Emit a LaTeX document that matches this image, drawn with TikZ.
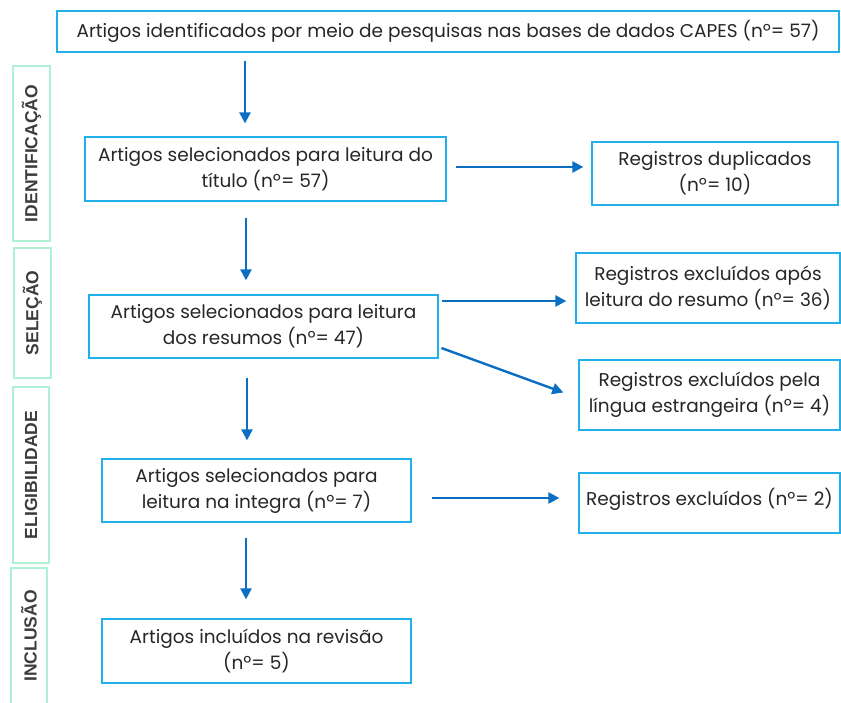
\documentclass[tikz,border=0pt]{standalone}
\usepackage{fontspec}
\setmainfont{Poppins}
\newfontfamily\phasefont{Liberation Sans}
\usetikzlibrary{arrows.meta, positioning}

\definecolor{boxblue}{HTML}{22B0EA}
\definecolor{arrowblue}{HTML}{0A6FC2}
\definecolor{phasegreen}{HTML}{ADF2D4}
\definecolor{textgray}{HTML}{262626}

\begin{document}
\begin{tikzpicture}[x=1pt, y=-1pt]
  \tikzstyle{box} = [draw = boxblue, line width = 1.3pt, align = center, inner sep = 1pt,
                     text = textgray, font = \fontsize{18.5}{26}\selectfont];
  \tikzstyle{phase} = [draw = phasegreen, line width = 1.3pt, rotate = 90, inner sep = 2pt,
                       text = textgray!90, font = \phasefont\bfseries\fontsize{17.5}{20}\selectfont];
  \tikzstyle{flow} = [draw = arrowblue, line width = 2.4pt, -{Triangle[width = 11pt, length = 11pt]}];

  \useasboundingbox (0,0) rectangle (841,703);

  % phases
  \node[phase, minimum width = 175pt, minimum height = 37pt] (ident) at (31.5,153.5) {IDENTIFICAÇÃO};
  \node[phase, minimum width = 130pt, minimum height = 37pt] (selec) at (32.5,313) {SELEÇÃO};
  \node[phase, minimum width = 176pt, minimum height = 36pt] (eleg) at (31,475) {ELIGIBILIDADE};
  \node[phase, minimum width = 136pt, minimum height = 36pt] (incl) at (29,636) {INCLUSÃO};

  % main flow
  \node[box, minimum width = 782pt, minimum height = 41pt] (busca) at (448,31.5)
    {Artigos identificados por meio de pesquisas nas bases de dados CAPES (nº= 57)};
  \node[box, minimum width = 361pt, minimum height = 64pt] (titulo) at (265.5,169)
    {Artigos selecionados para leitura do\\título (nº= 57)};
  \node[box, minimum width = 349pt, minimum height = 63pt] (resumo) at (263.5,326.5)
    {Artigos selecionados para leitura\\dos resumos (nº= 47)};
  \node[box, minimum width = 309pt, minimum height = 63pt] (integra) at (256.5,490.5)
    {Artigos selecionados para\\leitura na integra (nº= 7)};
  \node[box, minimum width = 309pt, minimum height = 64pt] (revisao) at (256.5,651)
    {Artigos incluídos na revisão\\(nº= 5)};

  % exclusions
  \node[box, minimum width = 246pt, minimum height = 63pt] (dupl) at (715,173.5)
    {Registros duplicados\\(nº= 10)};
  \node[box, minimum width = 264pt, minimum height = 70pt] (exres) at (708,288)
    {Registros excluídos após\\leitura do resumo (nº= 36)};
  \node[box, minimum width = 261pt, minimum height = 70pt] (exlin) at (709.5,395)
    {Registros excluídos pela\\língua estrangeira (nº= 4)};
  \node[box, minimum width = 261pt, minimum height = 60pt, text depth = 12pt] (exint) at (709.5,503)
    {Registros excluídos (nº= 2)};

  \draw[flow, shorten < = 8pt, shorten > = 13pt] ([xshift = -20.5pt]titulo.north |- busca.south) -- ([xshift = -20.5pt]titulo.north);
  \draw[flow, shorten < = 16pt, shorten > = 14pt] ([xshift = -17.5pt]resumo.north |- titulo.south) -- ([xshift = -17.5pt]resumo.north);
  \draw[flow, shorten < = 19pt, shorten > = 18pt] ([xshift = -9.5pt]integra.north |- resumo.south) -- ([xshift = -9.5pt]integra.north);
  \draw[flow, shorten < = 15pt, shorten > = 19pt] ([xshift = -10.5pt]revisao.north |- integra.south) -- ([xshift = -10.5pt]revisao.north);

  \draw[flow, shorten < = 9pt, shorten > = 8pt] ([yshift = 2pt]titulo.east) -- ([yshift = 2pt]titulo.east -| dupl.west);
  \draw[flow, shorten < = 3pt, shorten > = 9pt] ([yshift = 25.5pt]resumo.east) -- ([yshift = 25.5pt]resumo.east -| exres.west);
  \draw[flow, shorten < = 3pt, shorten > = 16pt] ([yshift = -20.5pt]resumo.east) -- ([yshift = -3pt]exlin.west);
  \draw[flow, shorten < = 20pt, shorten > = 19pt] ([yshift = -7.5pt]integra.east) -- ([yshift = -7.5pt]integra.east -| exint.west);
\end{tikzpicture}
\end{document}
